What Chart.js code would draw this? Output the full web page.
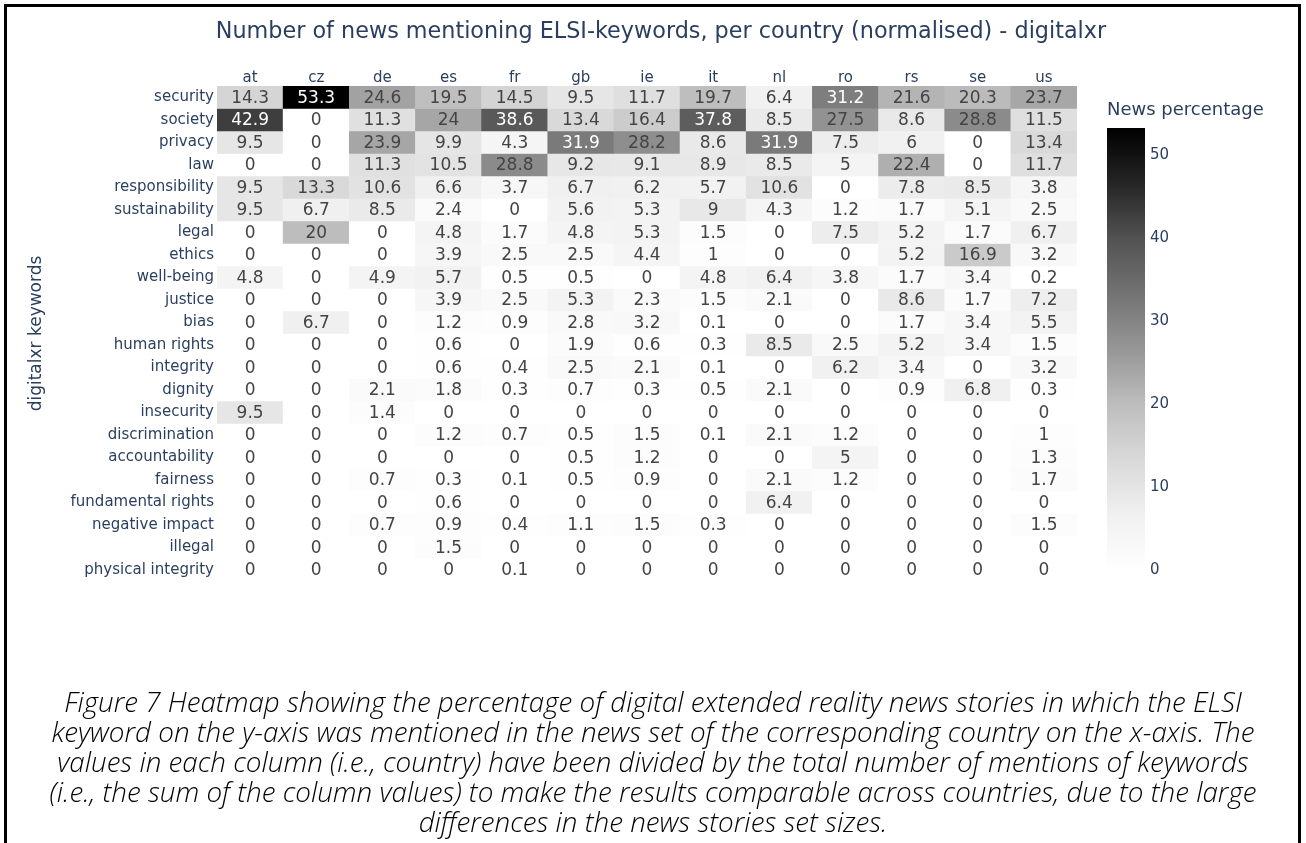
<!DOCTYPE html>
<html>
<head>
<meta charset="utf-8">
<script src="https://cdn.jsdelivr.net/npm/chart.js@4.4.1/dist/chart.umd.min.js"></script>
<style>
  html, body { margin: 0; padding: 0; background: #fff; }
  body { width: 1306px; height: 843px; position: relative; overflow: hidden; }
  #frame { position: absolute; left: 4px; top: 4px; width: 1291px; height: 900px; border: 3px solid #000; }
  #title { position: absolute; top: 17px; left: 8px; width: 1306px; text-align: center;
           font: 22.3px "DejaVu Sans"; line-height: 26px; color: #2a3f5f; }
  #cbtitle { position: absolute; left: 1107px; top: 97px; font: 18px "DejaVu Sans"; line-height: 24px; color: #2a3f5f; }
  #main { position: absolute; left: 0; top: 0; }
  #bar { position: absolute; left: 1100px; top: 90px; }
  #caption { position: absolute; left: 0; top: 686px; width: 1306px; text-align: center; white-space: nowrap;
             font: italic 300 27.8px "Open Sans"; line-height: 30px; color: #000; }
</style>
</head>
<body>
<div id="frame"></div>
<canvas id="main" width="1306" height="843"></canvas>
<canvas id="bar" width="100" height="510"></canvas>
<div id="title">Number of news mentioning ELSI-keywords, per country (normalised) - digitalxr</div>
<div id="cbtitle">News percentage</div>
<div id="caption">Figure 7 Heatmap showing the percentage of digital extended reality news stories in which the ELSI<br>keyword on the y-axis was mentioned in the news set of the corresponding country on the x-axis. The<br>values in each column (i.e., country) have been divided by the total number of mentions of keywords<br>(i.e., the sum of the column values) to make the results comparable across countries, due to the large<br>differences in the news stories set sizes.</div>
<script>
// countries (columns) and keywords (rows)
const countries = ['at', 'cz', 'de', 'es', 'fr', 'gb', 'ie', 'it', 'nl', 'ro', 'rs', 'se', 'us'];
const keywords = ['security', 'society', 'privacy', 'law', 'responsibility', 'sustainability',
  'legal', 'ethics', 'well-being', 'justice', 'bias', 'human rights', 'integrity', 'dignity',
  'insecurity', 'discrimination', 'accountability', 'fairness', 'fundamental rights',
  'negative impact', 'illegal', 'physical integrity'];

// one array per keyword, values in country order
const security          = [14.3, 53.3, 24.6, 19.5, 14.5, 9.5, 11.7, 19.7, 6.4, 31.2, 21.6, 20.3, 23.7];
const society           = [42.9, 0, 11.3, 24, 38.6, 13.4, 16.4, 37.8, 8.5, 27.5, 8.6, 28.8, 11.5];
const privacy           = [9.5, 0, 23.9, 9.9, 4.3, 31.9, 28.2, 8.6, 31.9, 7.5, 6, 0, 13.4];
const law               = [0, 0, 11.3, 10.5, 28.8, 9.2, 9.1, 8.9, 8.5, 5, 22.4, 0, 11.7];
const responsibility    = [9.5, 13.3, 10.6, 6.6, 3.7, 6.7, 6.2, 5.7, 10.6, 0, 7.8, 8.5, 3.8];
const sustainability    = [9.5, 6.7, 8.5, 2.4, 0, 5.6, 5.3, 9, 4.3, 1.2, 1.7, 5.1, 2.5];
const legal             = [0, 20, 0, 4.8, 1.7, 4.8, 5.3, 1.5, 0, 7.5, 5.2, 1.7, 6.7];
const ethics            = [0, 0, 0, 3.9, 2.5, 2.5, 4.4, 1, 0, 0, 5.2, 16.9, 3.2];
const wellBeing         = [4.8, 0, 4.9, 5.7, 0.5, 0.5, 0, 4.8, 6.4, 3.8, 1.7, 3.4, 0.2];
const justice           = [0, 0, 0, 3.9, 2.5, 5.3, 2.3, 1.5, 2.1, 0, 8.6, 1.7, 7.2];
const bias              = [0, 6.7, 0, 1.2, 0.9, 2.8, 3.2, 0.1, 0, 0, 1.7, 3.4, 5.5];
const humanRights       = [0, 0, 0, 0.6, 0, 1.9, 0.6, 0.3, 8.5, 2.5, 5.2, 3.4, 1.5];
const integrity         = [0, 0, 0, 0.6, 0.4, 2.5, 2.1, 0.1, 0, 6.2, 3.4, 0, 3.2];
const dignity           = [0, 0, 2.1, 1.8, 0.3, 0.7, 0.3, 0.5, 2.1, 0, 0.9, 6.8, 0.3];
const insecurity        = [9.5, 0, 1.4, 0, 0, 0, 0, 0, 0, 0, 0, 0, 0];
const discrimination    = [0, 0, 0, 1.2, 0.7, 0.5, 1.5, 0.1, 2.1, 1.2, 0, 0, 1];
const accountability    = [0, 0, 0, 0, 0, 0.5, 1.2, 0, 0, 5, 0, 0, 1.3];
const fairness          = [0, 0, 0.7, 0.3, 0.1, 0.5, 0.9, 0, 2.1, 1.2, 0, 0, 1.7];
const fundamentalRights = [0, 0, 0, 0.6, 0, 0, 0, 0, 6.4, 0, 0, 0, 0];
const negativeImpact    = [0, 0, 0.7, 0.9, 0.4, 1.1, 1.5, 0.3, 0, 0, 0, 0, 1.5];
const illegal           = [0, 0, 0, 1.5, 0, 0, 0, 0, 0, 0, 0, 0, 0];
const physicalIntegrity = [0, 0, 0, 0, 0.1, 0, 0, 0, 0, 0, 0, 0, 0];

const rows = [security, society, privacy, law, responsibility, sustainability, legal, ethics,
  wellBeing, justice, bias, humanRights, integrity, dignity, insecurity, discrimination,
  accountability, fairness, fundamentalRights, negativeImpact, illegal, physicalIntegrity];

const colorbarTicks = [0, 10, 20, 30, 40, 50];

// Greys colour scale (white -> black)
const greys = ['#ffffff', '#f0f0f0', '#d9d9d9', '#bdbdbd', '#969696', '#737373', '#525252', '#252525', '#000000'];
const zmax = Math.max(...rows.flat());
const FONT = 'DejaVu Sans';
const LABEL = '#2a3f5f';

function hexRgb(h) {
  return [1, 3, 5].map(i => parseInt(h.substr(i, 2), 16));
}

function greyLevel(v) {
  const pos = Math.min(v / zmax, 1) * (greys.length - 1);
  const i = Math.min(Math.floor(pos), greys.length - 2);
  const f = pos - i;
  const a = hexRgb(greys[i]), b = hexRgb(greys[i + 1]);
  return a.map((c, k) => Math.round(c + (b[k] - c) * f));
}

function greyFor(v) {
  return 'rgb(' + greyLevel(v).join(',') + ')';
}

// cell numbers, placed on the bar elements
const cellText = {
  id: 'cellText',
  afterDatasetsDraw(chart) {
    const ctx = chart.ctx;
    ctx.save();
    ctx.font = '17px "' + FONT + '"';
    ctx.textAlign = 'center';
    ctx.textBaseline = 'middle';
    chart.data.datasets.forEach((ds, r) => {
      chart.getDatasetMeta(r).data.forEach((bar, c) => {
        const v = ds.values[c];
        const g = greyLevel(v);
        const bright = (g[0] * 299 + g[1] * 587 + g[2] * 114) / 1000;
        ctx.fillStyle = bright < 128 ? '#ffffff' : '#444444';
        ctx.fillText(String(v), bar.x, (bar.y + bar.base) / 2 + 1);
      });
    });
    ctx.restore();
  }
};

new Chart(document.getElementById('main'), {
  type: 'bar',
  data: {
    labels: countries,
    datasets: rows.map((vals, r) => ({
      label: keywords[r],
      data: vals.map(() => [r - 0.5, r + 0.5]),
      values: vals,
      backgroundColor: vals.map(greyFor),
      borderWidth: 0,
      borderSkipped: false,
      barPercentage: 1,
      categoryPercentage: 1,
      grouped: false
    }))
  },
  options: {
    responsive: false,
    animation: false,
    layout: { padding: { left: 0, top: 0, right: 229, bottom: 262 } },
    plugins: {
      legend: { display: false },
      tooltip: { enabled: false }
    },
    scales: {
      x: {
        position: 'top',
        grid: { display: false, drawTicks: false },
        border: { display: false },
        ticks: { color: LABEL, font: { family: FONT, size: 15 }, padding: -1 },
        afterFit: s => { s.height = 86; }
      },
      y: {
        type: 'linear',
        reverse: true,
        min: -0.5,
        max: keywords.length - 0.5,
        grid: { display: false, drawTicks: false },
        border: { display: false },
        afterBuildTicks: s => { s.ticks = keywords.map((k, i) => ({ value: i })); },
        ticks: {
          autoSkip: false,
          color: LABEL,
          font: { family: FONT, size: 15 },
          padding: 3,
          callback: v => keywords[v]
        },
        title: {
          display: true,
          text: 'digitalxr keywords',
          color: LABEL,
          font: { family: FONT, size: 17 },
          padding: { top: 26, bottom: 0 }
        },
        afterFit: s => { s.width = 217; }
      }
    }
  },
  plugins: [cellText]
});

// colour bar
new Chart(document.getElementById('bar'), {
  type: 'bar',
  data: {
    labels: [''],
    datasets: [{
      data: [[0, zmax]],
      backgroundColor: c => {
        const area = c.chart.chartArea;
        if (!area) return null;
        const g = c.chart.ctx.createLinearGradient(0, area.bottom, 0, area.top);
        greys.forEach((col, i) => g.addColorStop(i / (greys.length - 1), col));
        return g;
      },
      borderWidth: 0,
      barPercentage: 1,
      categoryPercentage: 1
    }]
  },
  options: {
    responsive: false,
    animation: false,
    layout: { padding: { left: 7, top: 38, right: 0, bottom: 30 } },
    plugins: {
      legend: { display: false },
      tooltip: { enabled: false }
    },
    scales: {
      x: { display: false },
      y: {
        position: 'right',
        min: 0,
        max: zmax,
        grid: { display: false, drawTicks: false },
        border: { display: false },
        afterBuildTicks: s => { s.ticks = colorbarTicks.map(v => ({ value: v })); },
        ticks: { color: LABEL, font: { family: FONT, size: 15 }, padding: 5 },
        afterFit: s => { s.width = 55; }
      }
    }
  }
});
</script>
</body>
</html>
